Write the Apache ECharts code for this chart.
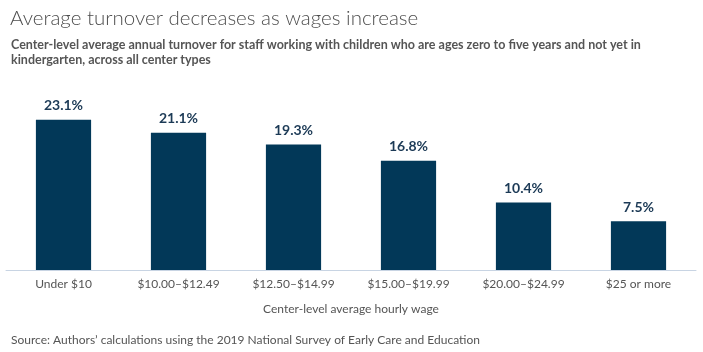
<!DOCTYPE html>
<html>
<head>
<meta charset="utf-8">
<script src="https://cdn.jsdelivr.net/npm/echarts@6/dist/echarts.min.js"></script>
<style>
  html, body { margin: 0; padding: 0; background: #fff; }
  #chart { width: 703px; height: 352px; }
</style>
</head>
<body>
<div id="chart"></div>
<script>
  const categories = ['Under $10', '$10.00–$12.49', '$12.50–$14.99', '$15.00–$19.99', '$20.00–$24.99', '$25 or more'];
  const turnover = [23.1, 21.1, 19.3, 16.8, 10.4, 7.5];

  const font = 'Lato, "Open Sans", sans-serif';
  const chart = echarts.init(document.getElementById('chart'));

  chart.setOption({
    backgroundColor: '#fff',
    animation: false,
    title: [
      {
        text: 'Average turnover decreases as wages increase',
        left: 5,
        top: 3,
        textStyle: { fontFamily: font, fontWeight: 300, fontSize: 20.5, color: '#4d4d4d' }
      },
      {
        text: 'Center-level average annual turnover for staff working with children who are ages zero to five years and not yet in\nkindergarten, across all center types',
        left: 6,
        top: 32,
        textStyle: { fontFamily: font, fontWeight: 'bold', fontSize: 12.5, lineHeight: 15, color: '#555' }
      },
      {
        text: 'Source: Authors\u2019 calculations using the 2019 National Survey of Early Care and Education',
        left: 6,
        top: 329,
        textStyle: { fontFamily: font, fontWeight: 'normal', fontSize: 12, color: '#555' }
      }
    ],
    grid: { left: 6, right: 7, top: 75, bottom: 82, containLabel: false },
    xAxis: {
      type: 'category',
      data: categories,
      axisLine: { lineStyle: { color: '#c8d4e3', width: 1 } },
      axisTick: { show: false },
      axisLabel: { fontFamily: font, fontSize: 12, color: '#555', margin: 8, interval: 0 },
      name: 'Center-level average hourly wage',
      nameLocation: 'middle',
      nameGap: 33,
      nameTextStyle: { fontFamily: font, fontSize: 12, color: '#555' }
    },
    yAxis: {
      type: 'value',
      min: 0,
      max: 30,
      show: false
    },
    series: [
      {
        type: 'bar',
        data: turnover,
        barWidth: '48%',
        itemStyle: { color: '#023858' },
        label: {
          show: true,
          position: 'top',
          distance: 7,
          formatter: (p) => p.value.toFixed(1) + '%',
          fontFamily: font,
          fontWeight: 'bold',
          fontSize: 14,
          color: '#1c3a56'
        }
      }
    ]
  });
</script>
</body>
</html>
